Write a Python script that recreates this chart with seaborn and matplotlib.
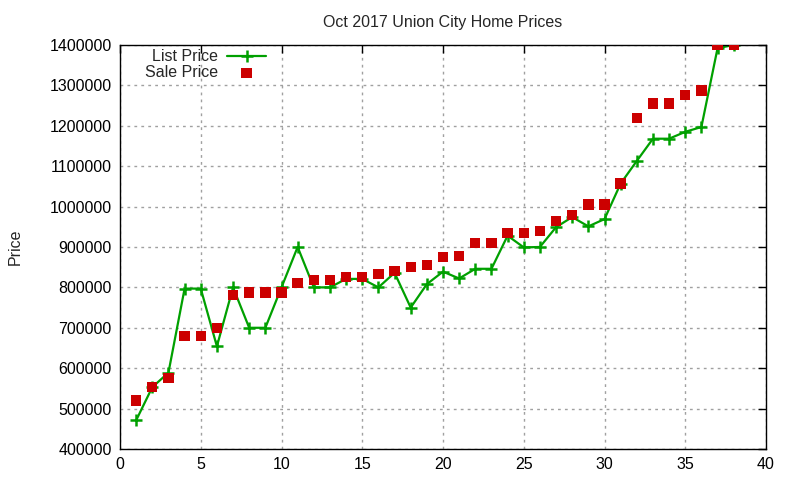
import matplotlib
matplotlib.use("Agg")
import matplotlib.pyplot as plt
import seaborn as sns
import pandas as pd

home_index = list(range(1, 39))
list_price = [471000, 553000, 589000, 797000, 797000, 654000, 800000, 700000, 700000, 800000,
              900000, 800000, 800000, 821000, 821000, 800000, 836000, 750000, 808000, 839000,
              822000, 846000, 846000, 928000, 899000, 900000, 949000, 974000, 951000, 969000,
              1057000, 1113000, 1168000, 1168000, 1185000, 1197000, 1392000, 1400000]
sale_price = [520000, 553000, 575000, 680000, 680000, 700000, 782000, 787000, 787000, 787000,
              811000, 819000, 819000, 826000, 826000, 833000, 841000, 851000, 856000, 876000,
              878000, 910000, 910000, 935000, 935000, 940000, 965000, 980000, 1005000, 1005000,
              1057000, 1220000, 1255000, 1255000, 1277000, 1287000, 1400000, 1400000]
x_ticks = [0, 5, 10, 15, 20, 25, 30, 35, 40]
y_ticks = [400000, 500000, 600000, 700000, 800000, 900000, 1000000, 1100000, 1200000, 1300000, 1400000]

df = pd.DataFrame({"n": home_index, "List Price": list_price, "Sale Price": sale_price})

sns.set_style("white")
plt.rcParams["font.family"] = ["Liberation Sans", "DejaVu Sans"]

fig = plt.figure(figsize=(8, 4.8), dpi=100)
ax = fig.add_axes([0.15, 0.0646, 0.8075, 0.8417])

green = "#00a000"
red = "#cc0000"
fs = 11.5

sns.lineplot(data=df, x="n", y="List Price", ax=ax, color=green, linewidth=1.6,
             marker="+", markersize=9, markeredgewidth=1.8, markeredgecolor=green,
             label="List Price")
sns.scatterplot(data=df, x="n", y="Sale Price", ax=ax, color=red, marker="s", s=55,
                edgecolor="none", label="Sale Price", zorder=3)

ax.set_xlim(0, 40)
ax.set_ylim(400000, 1400000)
ax.set_xticks(x_ticks)
ax.set_yticks(y_ticks)
ax.set_xticklabels([str(t) for t in x_ticks])
ax.set_yticklabels([str(t) for t in y_ticks])
ax.tick_params(direction="in", length=6, width=1, top=True, right=True, labelsize=fs,
               colors="black", pad=6)
for s in ax.spines.values():
    s.set_visible(True)
    s.set_color("black")
    s.set_linewidth(1)
ax.grid(True, linestyle=(0, (2, 3)), color="#a0a0a0", linewidth=1)
ax.set_axisbelow(True)
ax.set_xlabel("")
ax.set_ylabel("Price", fontsize=fs, labelpad=19)
ax.set_title("Oct 2017 Union City Home Prices", fontsize=fs, pad=13)

leg = ax.legend(loc="upper left", bbox_to_anchor=(0.021, 1.017), frameon=False, markerfirst=False,
                fontsize=fs, handlelength=2.4, handletextpad=0.6, labelspacing=0.05,
                borderaxespad=0.3)

fig.savefig("out.png", dpi=100)
